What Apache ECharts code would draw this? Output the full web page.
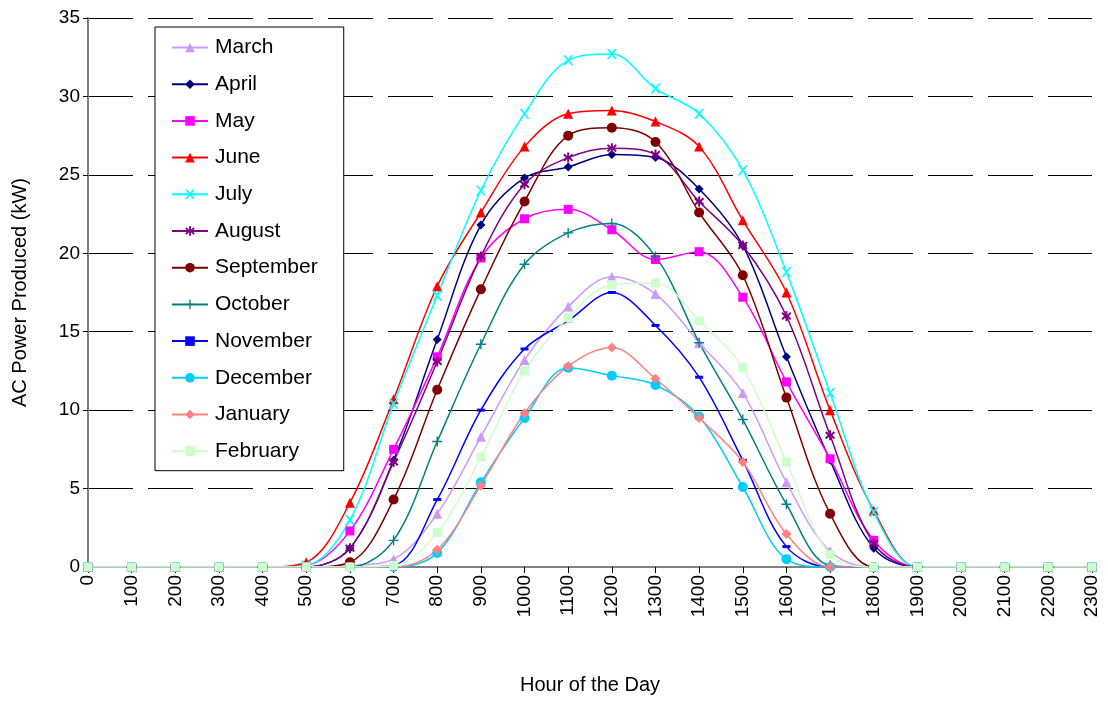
<!DOCTYPE html>
<html>
<head>
<meta charset="utf-8">
<script src="https://cdn.jsdelivr.net/npm/echarts@6/dist/echarts.min.js"></script>
<style>html,body{margin:0;background:#fff}#main{width:1108px;height:701px}</style>
</head>
<body>
<div id="main"></div>
<script>
var hours = [];
for (var h = 0; h <= 2300; h += 100) hours.push(String(h));
var z5 = [0, 0, 0, 0, 0];
var z5b = [0, 0, 0, 0, 0];
// values for 500..1800, padded with zeros
var march = [0, 0.1, 0.5, 3.4, 8.3, 13.2, 16.6, 18.5, 17.4, 14.3, 11.1, 5.4, 1.0, 0];
var april = [0, 1.2, 6.8, 14.5, 21.8, 24.8, 25.5, 26.3, 26.1, 24.1, 20.5, 13.4, 6.8, 1.2];
var may = [0.1, 2.3, 7.5, 13.4, 19.7, 22.2, 22.8, 21.5, 19.6, 20.1, 17.2, 11.8, 6.9, 1.7];
var june = [0.3, 4.1, 10.7, 17.9, 22.6, 26.8, 28.9, 29.1, 28.4, 26.8, 22.1, 17.5, 10.0, 3.6];
var july = [0.1, 3.0, 10.4, 17.3, 24.0, 28.9, 32.3, 32.7, 30.5, 28.9, 25.3, 18.8, 11.1, 3.5];
var august = [0, 1.2, 6.7, 13.1, 19.8, 24.4, 26.1, 26.7, 26.3, 23.3, 20.5, 16.0, 8.4, 1.5];
var september = [0, 0.3, 4.3, 11.3, 17.7, 23.3, 27.5, 28.0, 27.1, 22.6, 18.6, 10.8, 3.4, 0];
var october = [0, 0, 1.7, 8.0, 14.2, 19.3, 21.3, 21.9, 19.8, 14.3, 9.4, 4.0, 0.1, 0];
var november = [0, 0, 0.1, 4.3, 10.0, 13.9, 15.7, 17.5, 15.4, 12.1, 6.8, 1.3, 0, 0];
var december = [0, 0, 0, 0.9, 5.4, 9.5, 12.7, 12.2, 11.6, 9.6, 5.1, 0.5, 0, 0];
var january = [0, 0, 0, 1.1, 5.2, 9.8, 12.8, 14.0, 12.0, 9.5, 6.7, 2.1, 0, 0];
var february = [0, 0, 0.1, 2.2, 7.0, 12.5, 15.9, 18.0, 18.1, 15.7, 12.7, 6.7, 0.8, 0];

var xPath = 'path://M0,0L2,0L5,3.5L8,0L10,0L6,5L10,10L8,10L5,6.5L2,10L0,10L4,5Z';
var starPath = 'path://M4,0H6V3.6L8.6,1L10,2.4L7.4,5L10,7.6L8.6,9L6,6.4V10H4V6.4L1.4,9L0,7.6L2.6,5L0,2.4L1.4,1L4,3.6Z';
var plusPath = 'path://M4.3,0H5.7V4.3H10V5.7H5.7V10H4.3V5.7H0V4.3H4.3Z';
var months = [
  ['March', march, '#cc99ff', 'triangle', 10],
  ['April', april, '#000080', 'diamond', 9],
  ['May', may, '#ff00ff', 'rect', 9],
  ['June', june, '#ff0000', 'triangle', 10],
  ['July', july, '#00ffff', xPath, 10],
  ['August', august, '#800080', starPath, 10],
  ['September', september, '#800000', 'circle', 10],
  ['October', october, '#008080', plusPath, 10],
  ['November', november, '#0000ff', 'rect', [8, 3]],
  ['December', december, '#00ccff', 'circle', 10],
  ['January', january, '#ff8080', 'diamond', 10],
  ['February', february, '#ccffcc', 'rect', 9]
];

var series = months.map(function (m) {
  return {
    name: m[0], type: 'line', smooth: 0.35,
    data: z5.concat(m[1]).concat(z5b),
    symbol: m[3], symbolSize: m[4], showAllSymbol: true,
    lineStyle: { color: m[2], width: 1.5 },
    itemStyle: { color: m[2] }
  };
});

var chart = echarts.init(document.getElementById('main'));
chart.setOption({
  animation: false,
  textStyle: { fontFamily: 'Liberation Sans, Arial, sans-serif' },
  grid: { left: 88, right: 16, top: 18, bottom: 134 },
  legend: {
    orient: 'vertical', left: 155, top: 27, width: 190,
    itemGap: 15.7, itemWidth: 36, itemHeight: 12,
    padding: [10, 26, 9, 16],
    backgroundColor: '#fff', borderColor: '#000', borderWidth: 1,
    textStyle: { fontSize: 21, color: '#000', padding: [0, 0, 0, 2] }
  },
  xAxis: {
    type: 'category', data: hours, boundaryGap: false,
    name: 'Hour of the Day', nameLocation: 'middle', nameGap: 108,
    nameTextStyle: { fontSize: 20, color: '#000' },
    axisLine: { lineStyle: { color: '#808080', width: 2 } },
    axisTick: { alignWithLabel: true, lineStyle: { color: '#000' }, length: 6 },
    axisLabel: { rotate: 90, fontSize: 19, color: '#000', interval: 0 },
    splitLine: { show: false }
  },
  yAxis: {
    type: 'value', min: 0, max: 35, interval: 5,
    name: 'AC Power Produced (kW)', nameLocation: 'middle', nameGap: 58,
    nameTextStyle: { fontSize: 20, color: '#000' },
    axisLine: { show: true, lineStyle: { color: '#808080', width: 2 } },
    axisTick: { show: true, lineStyle: { color: '#000' } },
    axisLabel: { fontSize: 19, color: '#000' },
    splitLine: { lineStyle: { color: '#000', type: [45, 15], width: 1 } }
  },
  series: series
});
</script>
</body>
</html>
